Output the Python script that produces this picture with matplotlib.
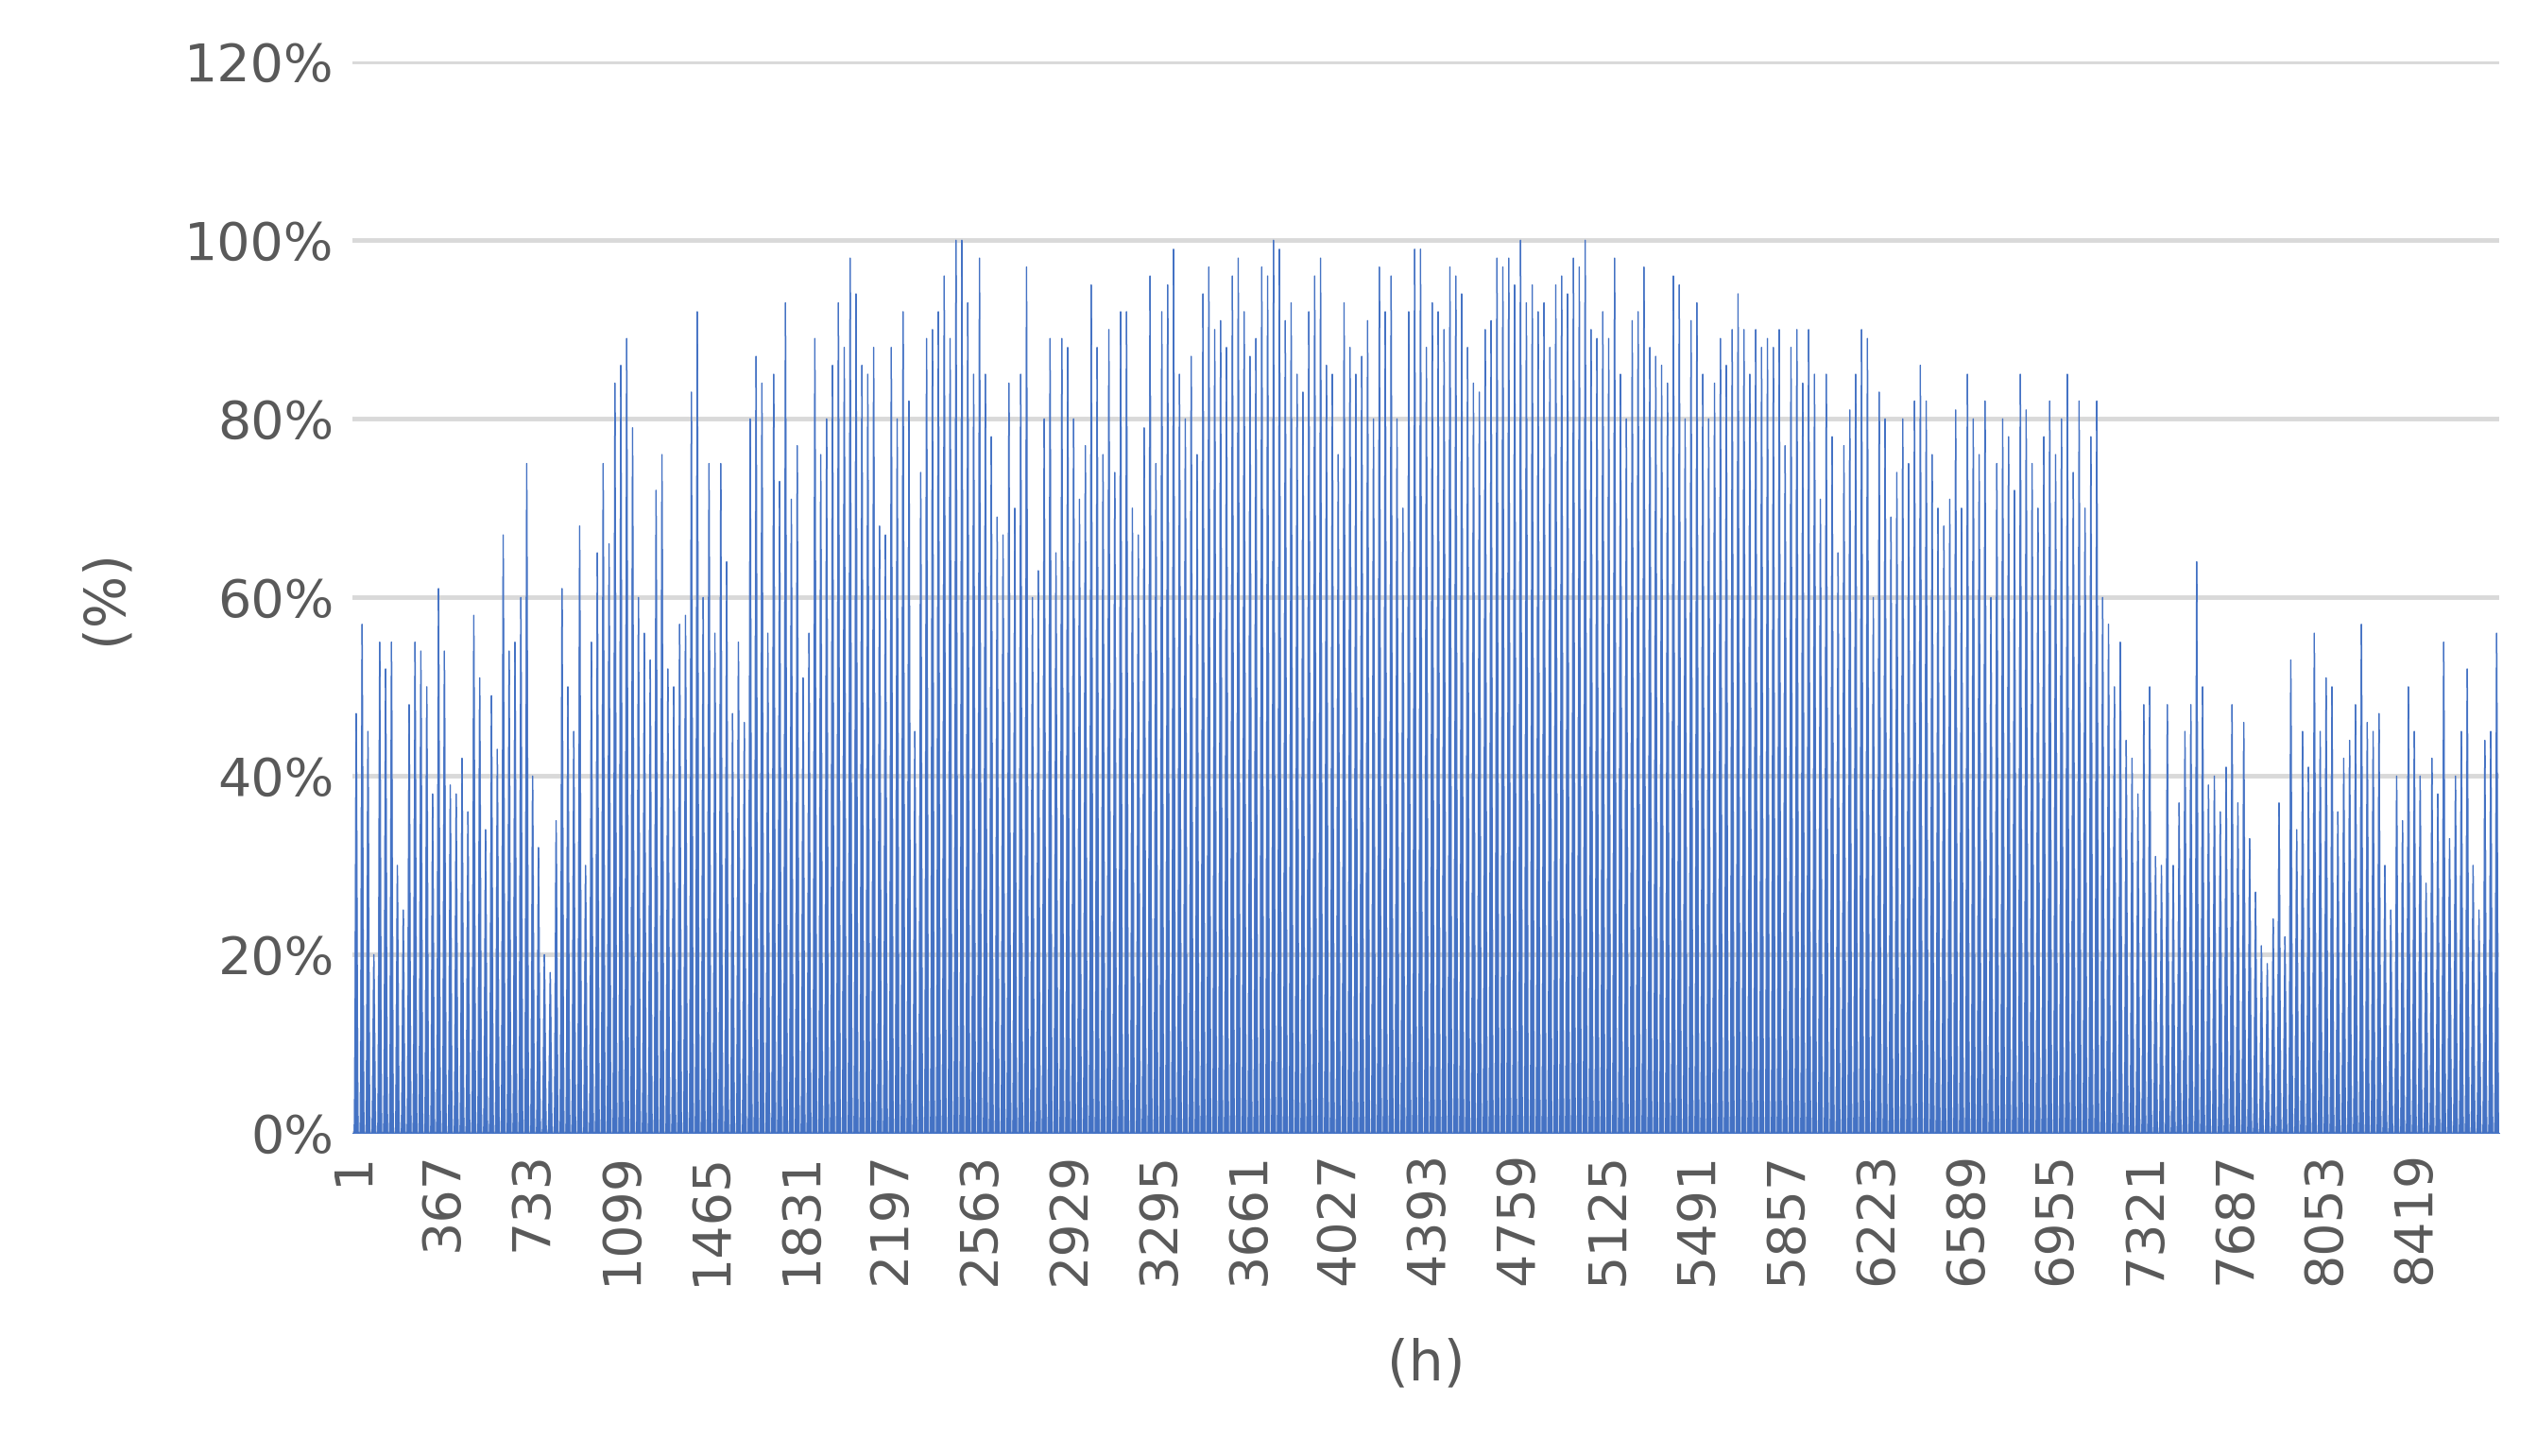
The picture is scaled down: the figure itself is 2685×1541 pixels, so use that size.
import numpy as np
import matplotlib
matplotlib.use("Agg")
import matplotlib.pyplot as plt

daily_peaks = [
    47, 57, 45, 20, 55, 52, 55, 30, 25, 48, 55, 54, 50, 38, 61, 54, 39, 38, 42, 36, 58, 51, 34, 49, 43, 67, 54, 55, 60, 75,
    40, 32, 20, 18, 35, 61, 50, 45, 68, 30, 55, 65, 75, 66, 84, 86, 89, 79, 60, 56, 53, 72, 76, 52, 50, 57, 58, 83, 92, 60,
    75, 56, 75, 64, 47, 55, 46, 80, 87, 84, 56, 85, 73, 93, 71, 77, 51, 56, 89, 76, 80, 86, 93, 88, 98, 94, 86, 85, 88, 68,
    67, 88, 80, 92, 82, 45, 74, 89, 90, 92, 96, 89, 100, 100, 93, 85, 98, 85, 78, 69, 67, 84, 70, 85, 97, 60, 63, 80, 89, 65,
    89, 88, 80, 71, 77, 95, 88, 76, 90, 74, 92, 92, 70, 67, 79, 96, 75, 92, 95, 99, 85, 80, 87, 76, 94, 97, 90, 91, 88, 96,
    98, 92, 87, 89, 97, 96, 100, 99, 91, 93, 85, 83, 92, 96, 98, 86, 85, 76, 93, 88, 85, 87, 91, 80, 97, 92, 96, 80, 70, 92,
    99, 99, 88, 93, 92, 90, 97, 96, 94, 88, 84, 83, 90, 91, 98, 97, 98, 95, 100, 93, 95, 92, 93, 88, 95, 96, 94, 98, 97, 100,
    90, 89, 92, 89, 98, 85, 80, 91, 92, 97, 88, 87, 86, 84, 96, 95, 80, 91, 93, 85, 80, 84, 89, 86, 90, 94, 90, 85, 90, 88,
    89, 88, 90, 77, 88, 90, 84, 90, 85, 71, 85, 78, 65, 77, 81, 85, 90, 89, 60, 83, 80, 69, 74, 80, 75, 82, 86, 82, 76, 70,
    68, 71, 81, 70, 85, 80, 76, 82, 60, 75, 80, 78, 72, 85, 81, 75, 70, 78, 82, 76, 80, 85, 74, 82, 70, 78, 82, 60, 57, 50,
    55, 44, 42, 38, 48, 50, 31, 30, 48, 30, 37, 45, 48, 64, 50, 39, 40, 36, 41, 48, 37, 46, 33, 27, 21, 19, 24, 37, 22, 53,
    34, 45, 41, 56, 45, 51, 50, 36, 42, 44, 48, 57, 46, 45, 47, 30, 25, 40, 35, 50, 45, 40, 28, 42, 38, 55, 33, 40, 45, 52,
    30, 25, 44, 45, 56,
]

# Typical within-day profile (fraction of the daily peak), hour 0..23
day_shape = [0, 0, 0, 0, 0.02, 0.08, 0.18, 0.32, 0.48, 0.64, 0.8, 0.93,
             1.0, 0.96, 0.86, 0.72, 0.56, 0.4, 0.25, 0.12, 0.04, 0, 0, 0]

tick_hours = list(range(1, 8761, 366))

hourly = (np.array(daily_peaks)[:, None] * np.array(day_shape)[None, :]).ravel() / 100.0
hours = np.arange(1, len(hourly) + 1)

GREY = "#595959"
BLUE = "#4472C4"

fig = plt.figure(figsize=(26.85, 15.41), dpi=100)
ax = fig.add_axes([0.139, 0.222, 0.846, 0.736])

ax.fill_between(hours, 0, hourly, step="mid", color=BLUE, linewidth=0.8,
                edgecolor=BLUE, zorder=2)

ax.set_xlim(0.5, 8760.5)
ax.set_ylim(0, 1.2)
ax.set_yticks(np.arange(0, 1.21, 0.2))
ax.set_yticklabels([f"{int(round(v * 100))}%" for v in np.arange(0, 1.21, 0.2)])
ax.set_xticks(tick_hours)
ax.set_xticklabels([str(t) for t in tick_hours], rotation=90)

ax.grid(axis="y", color="#D9D9D9", linewidth=3.5, zorder=0)
ax.set_axisbelow(True)
for s in ax.spines.values():
    s.set_visible(False)
ax.axhline(0, color="#D9D9D9", linewidth=3.5, zorder=1)
ax.tick_params(axis="both", length=0, labelsize=40, labelcolor=GREY, pad=14)

ax.set_ylabel("(%)", fontsize=42, color=GREY, labelpad=40)
ax.set_xlabel("(h)", fontsize=42, color=GREY, labelpad=40)

fig.savefig("out.png", dpi=100)
